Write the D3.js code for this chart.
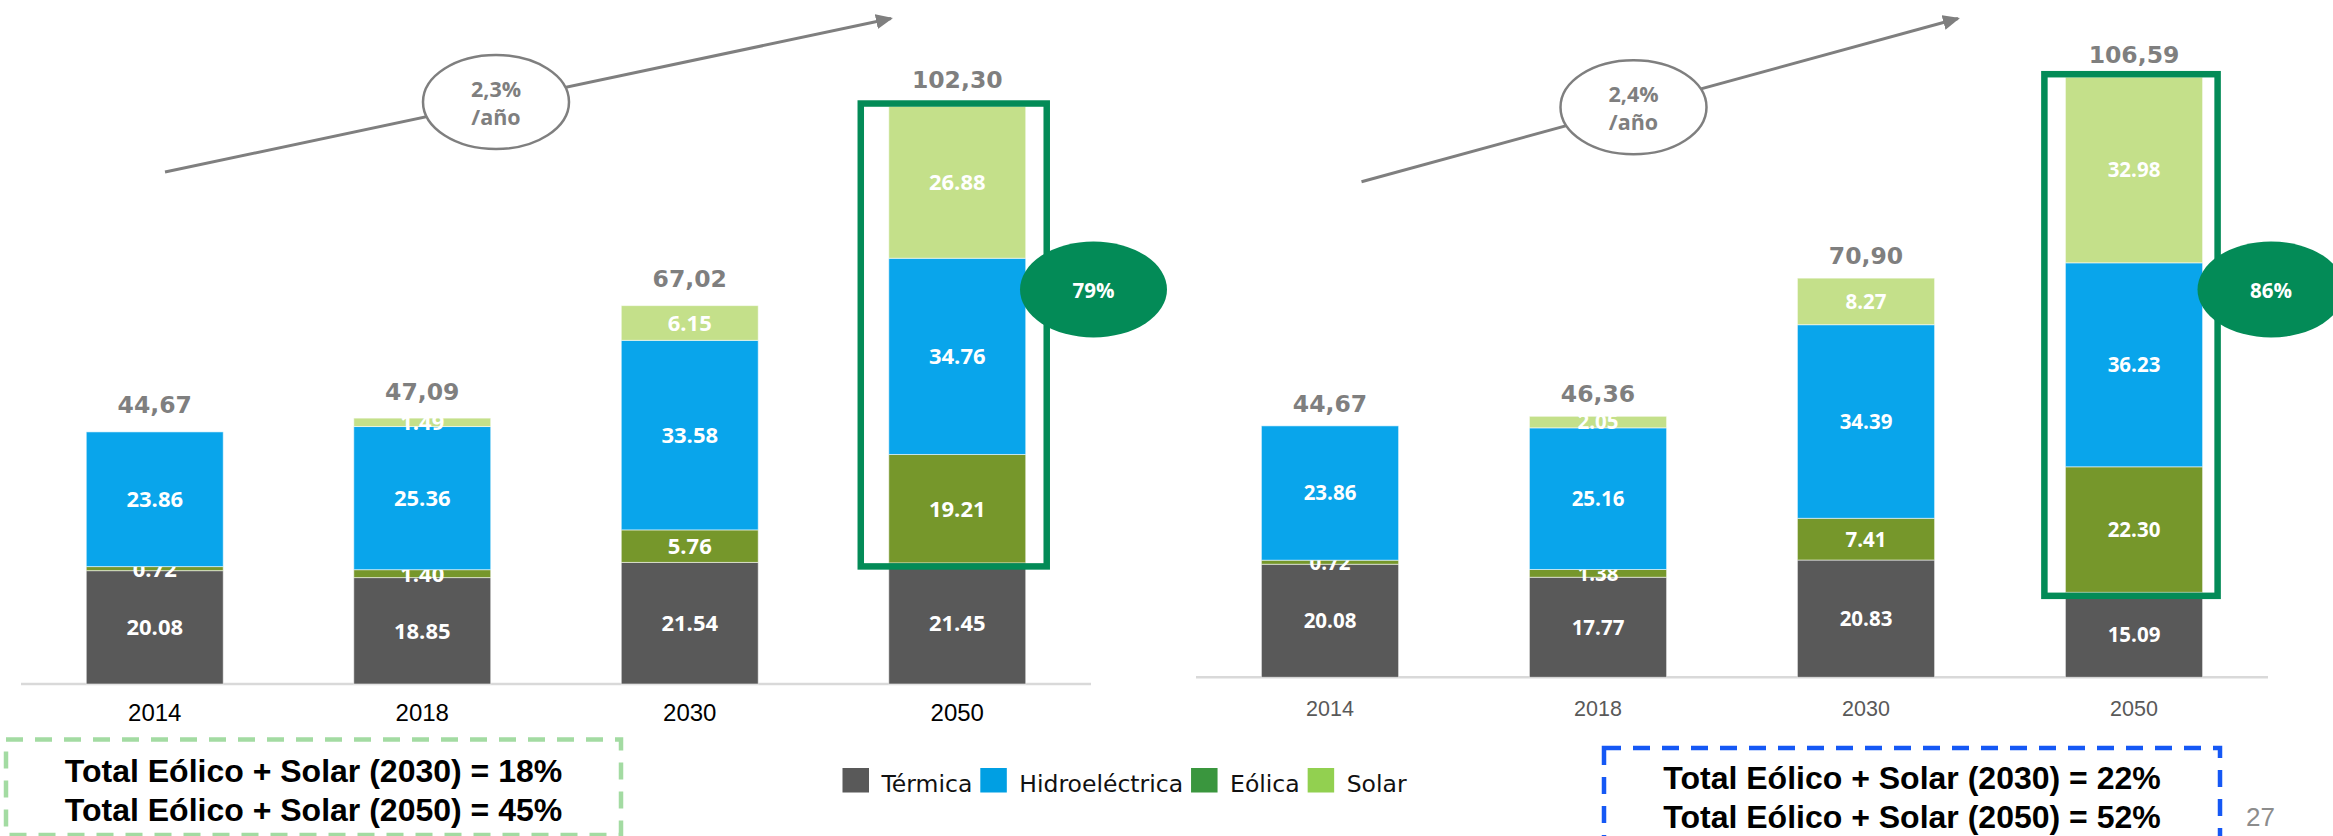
<!DOCTYPE html>
<html>
<head>
<meta charset="utf-8">
<script src="https://cdn.jsdelivr.net/npm/d3@7"></script>
<style>
  html, body { margin: 0; padding: 0; background: #ffffff; }
  svg { display: block; }
</style>
</head>
<body>
<svg id="chart" width="2333" height="836"></svg>
<script>
// Capacity by source (GW) for two scenarios, years 2014–2050
const years = ["2014", "2018", "2030", "2050"];
const seriesNames = ["Térmica", "Eólica", "Hidroeléctrica", "Solar"]; // stacking order, bottom to top
const legendNames = ["Térmica", "Hidroeléctrica", "Eólica", "Solar"];

// Scenario A
const termicaA = [20.08, 18.85, 21.54, 21.45];
const eolicaA  = [0.72, 1.40, 5.76, 19.21];
const hidroA   = [23.86, 25.36, 33.58, 34.76];
const solarA   = [0, 1.49, 6.15, 26.88];
const totalsA  = [44.67, 47.09, 67.02, 102.30];
const growthA  = ["2,3%", "/año"];
const badgeA   = "79%";
const summaryA = ["Total Eólico + Solar (2030) = 18%", "Total Eólico + Solar (2050) = 45%"];

// Scenario B
const termicaB = [20.08, 17.77, 20.83, 15.09];
const eolicaB  = [0.72, 1.38, 7.41, 22.30];
const hidroB   = [23.86, 25.16, 34.39, 36.23];
const solarB   = [0, 2.05, 8.27, 32.98];
const totalsB  = [44.67, 46.36, 70.90, 106.59];
const growthB  = ["2,4%", "/año"];
const badgeB   = "86%";
const summaryB = ["Total Eólico + Solar (2030) = 22%", "Total Eólico + Solar (2050) = 52%"];

const pageNumber = "27";

const barColors = {
  "Térmica": "#595959",
  "Hidroeléctrica": "#09a5eb",
  "Eólica": "#76972b",
  "Solar": "#c4e08a"
};
const legendColors = {
  "Térmica": "#595959",
  "Hidroeléctrica": "#009fe3",
  "Eólica": "#3a963e",
  "Solar": "#92d050"
};

const svg = d3.select("#chart");
const fmtSeg = v => v.toFixed(2);
const fmtTot = v => v.toFixed(2).replace(".", ",");

const defs = svg.append("defs");
defs.append("marker")
  .attr("id", "arrowHead")
  .attr("markerUnits", "userSpaceOnUse")
  .attr("viewBox", "0 -8 17 16")
  .attr("refX", 15).attr("refY", 0)
  .attr("markerWidth", 17).attr("markerHeight", 16)
  .attr("orient", "auto")
  .append("path").attr("d", "M0,-7.5L17,0L0,7.5Z").attr("fill", "#7f7f7f");

function drawPanel(cfg) {
  const rows = years.map((y, i) => ({
    year: y,
    "Térmica": cfg.termica[i],
    "Eólica": cfg.eolica[i],
    "Hidroeléctrica": cfg.hidro[i],
    "Solar": cfg.solar[i],
    total: cfg.totals[i]
  }));

  const x = d3.scaleBand().domain(years).range([cfg.x0, cfg.x1])
    .paddingInner(0.488).paddingOuter(0.244);
  const y = d3.scaleLinear().domain([0, 100]).range([cfg.base, cfg.base - 100 * cfg.k]);

  const stack = d3.stack().keys(seriesNames)(rows);
  const g = svg.append("g");

  // baseline axis with year labels
  const axis = d3.axisBottom(x).tickSize(0).tickPadding(cfg.tickPad);
  const ax = g.append("g").attr("transform", `translate(0,${cfg.base})`).call(axis);
  ax.select(".domain").attr("stroke", "#d9d9d9").attr("stroke-width", 2.5)
    .attr("d", `M${cfg.x0},0H${cfg.x1}`);
  ax.selectAll(".tick text")
    .attr("font-family", "'Liberation Sans', Arial, sans-serif")
    .attr("font-size", cfg.yearSize)
    .attr("fill", cfg.yearColor);

  // stacked segments
  const layers = g.selectAll("g.layer").data(stack).join("g").attr("class", "layer")
    .attr("fill", d => barColors[d.key]);
  layers.selectAll("rect").data(d => d.filter(p => p[1] - p[0] > 0)).join("rect")
    .attr("x", d => x(d.data.year))
    .attr("width", x.bandwidth())
    .attr("y", d => y(d[1]))
    .attr("height", d => y(d[0]) - y(d[1]))
    .attr("stroke", "rgba(255,255,255,0.55)")
    .attr("stroke-width", 1);

  // segment value labels
  layers.selectAll("text").data(d => d.filter(p => p[1] - p[0] > 0).map(p => ({ p, key: d.key }))).join("text")
    .attr("x", d => x(d.p.data.year) + x.bandwidth() / 2)
    .attr("y", d => (y(d.p[0]) + y(d.p[1])) / 2)
    .attr("dy", "0.36em")
    .attr("text-anchor", "middle")
    .attr("font-family", "'Open Sans', 'DejaVu Sans', sans-serif")
    .attr("font-weight", "bold")
    .attr("font-size", cfg.segSize)
    .attr("fill", "#ffffff")
    .text(d => fmtSeg(d.p.data[d.key]));

  // totals above each bar
  g.selectAll("text.total").data(rows).join("text").attr("class", "total")
    .attr("x", d => x(d.year) + x.bandwidth() / 2)
    .attr("y", d => y(d.total) - cfg.totalGap)
    .attr("text-anchor", "middle")
    .attr("font-family", "'DejaVu Sans', Verdana, sans-serif")
    .attr("font-weight", "bold")
    .attr("font-size", 23.5)
    .attr("fill", "#7f7f7f")
    .text(d => fmtTot(d.total));

  // highlight frame around renewables of the last year
  const last = rows[rows.length - 1];
  const bx = x(last.year);
  g.append("rect")
    .attr("x", bx + cfg.frameLeft)
    .attr("width", x.bandwidth() + cfg.frameRight - cfg.frameLeft)
    .attr("y", y(last.total) - 3)
    .attr("height", y(last["Térmica"]) - y(last.total) + 6.5)
    .attr("fill", "none")
    .attr("stroke", "#038b57")
    .attr("stroke-width", 6.5);

  // renewable share badge
  g.append("ellipse")
    .attr("cx", cfg.badgeX).attr("cy", 289.5)
    .attr("rx", 73.5).attr("ry", 48)
    .attr("fill", "#038b57");
  g.append("text")
    .attr("x", cfg.badgeX).attr("y", 297.5)
    .attr("text-anchor", "middle")
    .attr("font-family", "'Open Sans', sans-serif")
    .attr("font-weight", "bold")
    .attr("font-size", 20.5)
    .attr("fill", "#ffffff")
    .text(cfg.badge);

  // growth arrow with annual-rate bubble
  g.append("line")
    .attr("x1", cfg.arrow[0]).attr("y1", cfg.arrow[1])
    .attr("x2", cfg.arrow[2]).attr("y2", cfg.arrow[3])
    .attr("stroke", "#7f7f7f").attr("stroke-width", 3)
    .attr("marker-end", "url(#arrowHead)");
  const t = (cfg.bubbleX - cfg.arrow[0]) / (cfg.arrow[2] - cfg.arrow[0]);
  const by = cfg.arrow[1] + t * (cfg.arrow[3] - cfg.arrow[1]);
  g.append("ellipse")
    .attr("cx", cfg.bubbleX).attr("cy", by)
    .attr("rx", 73).attr("ry", 47)
    .attr("fill", "#ffffff").attr("stroke", "#7f7f7f").attr("stroke-width", 2.5);
  g.selectAll("text.rate").data(cfg.growth).join("text").attr("class", "rate")
    .attr("x", cfg.bubbleX)
    .attr("y", (d, i) => by - 5.5 + i * 28.5)
    .attr("text-anchor", "middle")
    .attr("font-family", "'Open Sans', sans-serif")
    .attr("font-weight", "bold")
    .attr("font-size", 21.5)
    .attr("fill", "#7f7f7f")
    .text(d => d);

  // dashed summary box
  g.append("rect")
    .attr("x", cfg.box[0]).attr("y", cfg.box[1])
    .attr("width", cfg.box[2] - cfg.box[0]).attr("height", cfg.box[3] - cfg.box[1])
    .attr("fill", "none")
    .attr("stroke", cfg.boxColor).attr("stroke-width", 4.5)
    .attr("stroke-dasharray", "17,12");
  g.selectAll("text.summary").data(cfg.summary).join("text").attr("class", "summary")
    .attr("x", (cfg.box[0] + cfg.box[2]) / 2)
    .attr("y", (d, i) => cfg.box[1] + cfg.sumFirst + i * 38.5)
    .attr("text-anchor", "middle")
    .attr("font-family", "'Liberation Sans', Arial, sans-serif")
    .attr("font-weight", "bold")
    .attr("font-size", 32)
    .attr("fill", "#000000")
    .text(d => d);
}

drawPanel({
  termica: termicaA, eolica: eolicaA, hidro: hidroA, solar: solarA, totals: totalsA,
  x0: 21, x1: 1091, base: 684, k: 5.645,
  tickPad: 20, yearSize: 24, yearColor: "#000000",
  segSize: 22, totalGap: 18.5,
  frameLeft: -28, frameRight: 21,
  badgeX: 1093.5, badge: badgeA,
  arrow: [165, 172, 891, 18.5], bubbleX: 496, growth: growthA,
  box: [6, 739.5, 621, 835], boxColor: "#a3dba2", sumFirst: 42.5,
  summary: summaryA
});

drawPanel({
  termica: termicaB, eolica: eolicaB, hidro: hidroB, solar: solarB, totals: totalsB,
  x0: 1196, x1: 2268, base: 677.3, k: 5.63,
  tickPad: 23, yearSize: 21.5, yearColor: "#595959",
  segSize: 20.5, totalGap: 14,
  frameLeft: -21, frameRight: 15,
  badgeX: 2271, badge: badgeB,
  arrow: [1361.5, 181.7, 1958, 18.5], bubbleX: 1633.5, growth: growthB,
  box: [1604, 748, 2220, 880], boxColor: "#1558f5", sumFirst: 41,
  summary: summaryB
});

// shared legend
const legend = svg.append("g").attr("font-family", "'DejaVu Sans', Verdana, sans-serif")
  .attr("font-size", 23.5);
let lx = 842.5;
legendNames.forEach(name => {
  legend.append("rect").attr("x", lx).attr("y", 768).attr("width", 26.5).attr("height", 24.5)
    .attr("fill", legendColors[name]);
  const txt = legend.append("text").attr("x", lx + 39).attr("y", 791.5).attr("fill", "#111111").text(name);
  lx += 39 + txt.node().getComputedTextLength() + 8;
});

// page number
svg.append("text").attr("x", 2246).attr("y", 826)
  .attr("font-family", "'Liberation Sans', Arial, sans-serif")
  .attr("font-size", 26).attr("fill", "#8c8c8c")
  .text(pageNumber);
</script>
</body>
</html>
